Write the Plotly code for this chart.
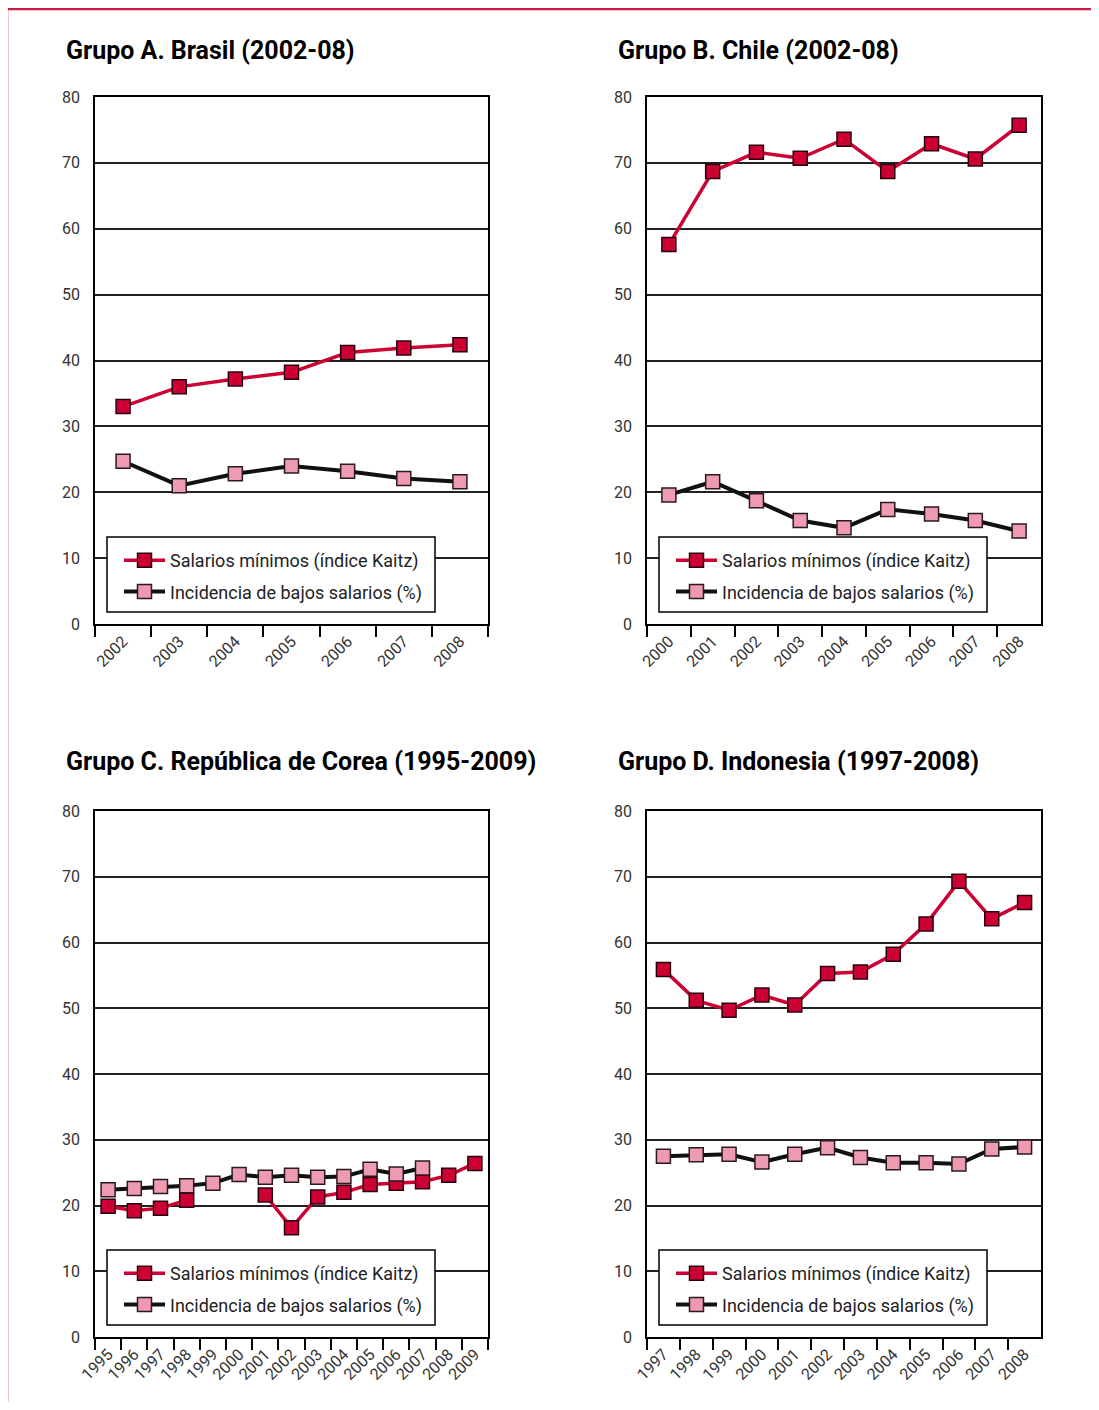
import plotly.graph_objects as go

# ---------------- data ----------------
years_a = ["2002", "2003", "2004", "2005", "2006", "2007", "2008"]
kaitz_a = [33.0, 36.0, 37.2, 38.2, 41.2, 41.9, 42.4]
low_a = [24.7, 21.0, 22.8, 24.0, 23.2, 22.1, 21.6]

years_b = ["2000", "2001", "2002", "2003", "2004", "2005", "2006", "2007", "2008"]
kaitz_b = [57.6, 68.7, 71.6, 70.7, 73.6, 68.7, 72.9, 70.6, 75.7]
low_b = [19.6, 21.6, 18.7, 15.7, 14.6, 17.4, 16.7, 15.7, 14.1]

years_c = ["1995", "1996", "1997", "1998", "1999", "2000", "2001", "2002",
           "2003", "2004", "2005", "2006", "2007", "2008", "2009"]
kaitz_c = [19.9, 19.2, 19.6, 20.8, None, None, 21.6, 16.6,
           21.3, 22.0, 23.2, 23.4, 23.6, 24.6, 26.4]
low_c = [22.4, 22.6, 22.9, 23.0, 23.4, 24.7, 24.3, 24.6,
         24.3, 24.4, 25.5, 24.8, 25.7, None, None]

years_d = ["1997", "1998", "1999", "2000", "2001", "2002", "2003", "2004",
           "2005", "2006", "2007", "2008"]
kaitz_d = [55.9, 51.2, 49.7, 52.0, 50.5, 55.3, 55.5, 58.2, 62.8, 69.3, 63.6, 66.1]
low_d = [27.5, 27.7, 27.8, 26.6, 27.8, 28.8, 27.3, 26.5, 26.5, 26.3, 28.6, 28.9]

titles = ["Grupo A. Brasil (2002-08)", "Grupo B. Chile (2002-08)",
          "Grupo C. República de Corea (1995-2009)", "Grupo D. Indonesia (1997-2008)"]
name_kaitz = "Salarios mínimos (índice Kaitz)"
name_low = "Incidencia de bajos salarios (%)"
y_ticks = [0, 10, 20, 30, 40, 50, 60, 70, 80]

# ---------------- layout helpers ----------------
PAGE_W, PAGE_H = 1099, 1410
OX, OY = 8, 8  # body margin of the page
W, H = PAGE_W - 2 * OX, PAGE_H - 2 * OY


def fx(px):
    return (px - OX) / W


def fy(py):
    return 1 - (py - OY) / H


RED = "#CC0033"
PINK = "#EE9AB0"
LINE_BLACK = "#111111"
FONT = "Roboto, Liberation Sans, sans-serif"

panels = [
    dict(years=years_a, k=kaitz_a, l=low_a, x0=95, x1=488, y0=97, y1=624, tx=64, ty=50),
    dict(years=years_b, k=kaitz_b, l=low_b, x0=647, x1=1041, y0=97, y1=624, tx=616, ty=50),
    dict(years=years_c, k=kaitz_c, l=low_c, x0=95, x1=488, y0=811, y1=1337, tx=64, ty=761),
    dict(years=years_d, k=kaitz_d, l=low_d, x0=647, x1=1041, y0=811, y1=1337, tx=616, ty=761),
]

fig = go.Figure()
layout = dict(
    width=W, height=H,
    margin=dict(l=0, r=0, t=0, b=0, autoexpand=False),
    paper_bgcolor="white", plot_bgcolor="white",
    showlegend=True,
    annotations=[], shapes=[],
)

for i, p in enumerate(panels):
    n = "" if i == 0 else str(i + 1)
    xa, ya = "x" + n, "y" + n
    leg = "legend" + n
    fig.add_trace(go.Scatter(
        x=p["years"], y=p["k"], name=name_kaitz, mode="lines+markers",
        xaxis=xa, yaxis=ya, legend=leg, legendgroup="k" + n, connectgaps=False,
        line=dict(color=RED, width=3.5),
        marker=dict(symbol="square", size=14, color=RED,
                    line=dict(color="#2a0010", width=1.5)),
    ))
    fig.add_trace(go.Scatter(
        x=p["years"], y=p["l"], name=name_low, mode="lines+markers",
        xaxis=xa, yaxis=ya, legend=leg, legendgroup="l" + n, connectgaps=False,
        line=dict(color=LINE_BLACK, width=4),
        marker=dict(symbol="square", size=14, color=PINK,
                    line=dict(color="#2a1a1e", width=1.5)),
    ))
    layout["xaxis" + n] = dict(
        domain=[fx(p["x0"]), fx(p["x1"])], anchor=ya,
        type="category", categoryorder="array", categoryarray=p["years"],
        range=[-0.5, len(p["years"]) - 0.5],
        showline=True, linecolor="black", linewidth=1.5, mirror=True,
        showgrid=False, zeroline=False,
        ticks="outside", tickson="boundaries", ticklen=11,
        tickwidth=1.5, tickcolor="black",
        tickangle=-45, tickfont=dict(family=FONT, size=16, color="#333333"),
        fixedrange=True,
    )
    layout["yaxis" + n] = dict(
        domain=[fy(p["y1"]), fy(p["y0"])], anchor=xa,
        range=[0, 80], tickvals=y_ticks,
        showline=True, linecolor="black", linewidth=1.5, mirror=True,
        showgrid=True, gridcolor="#222222", gridwidth=1.5, zeroline=False,
        ticks="", ticklabelstandoff=10,
        tickfont=dict(family=FONT, size=16, color="#333333"),
        fixedrange=True,
    )
    # legend frame
    bx0, bx1 = p["x0"] + 12, p["x0"] + 340
    by0, by1 = p["y1"] - 87, p["y1"] - 12
    layout["shapes"].append(dict(
        type="rect", xref="paper", yref="paper", layer="above",
        x0=fx(bx0), x1=fx(bx1), y0=fy(by1), y1=fy(by0),
        fillcolor="white", line=dict(color="black", width=1.5),
    ))
    layout[leg] = dict(
        x=fx(bx0 + 12), y=fy(by0 + 5), xanchor="left", yanchor="top",
        xref="paper", yref="paper",
        bgcolor="rgba(0,0,0,0)", borderwidth=0,
        font=dict(family=FONT, size=18, color="#222222"),
        traceorder="grouped", itemwidth=41, tracegroupgap=5,
    )
    layout["annotations"].append(dict(
        text="<b>" + titles[i] + "</b>", x=fx(p["tx"]), y=fy(p["ty"]),
        xref="paper", yref="paper", xanchor="left", yanchor="middle",
        showarrow=False, font=dict(family=FONT, size=25, color="black"),
    ))

# red frame lines (left and top)
layout["shapes"].append(dict(type="line", xref="paper", yref="paper",
                             x0=fx(7), x1=1.02, y0=fy(9), y1=fy(9),
                             line=dict(color="#CC1A44", width=2.5)))
layout["shapes"].append(dict(type="line", xref="paper", yref="paper",
                             x0=fx(7), x1=fx(7), y0=fy(9), y1=-0.02,
                             line=dict(color="#CC1A44", width=2.5)))

fig.update_layout(**layout)
fig.write_html("out.html")
